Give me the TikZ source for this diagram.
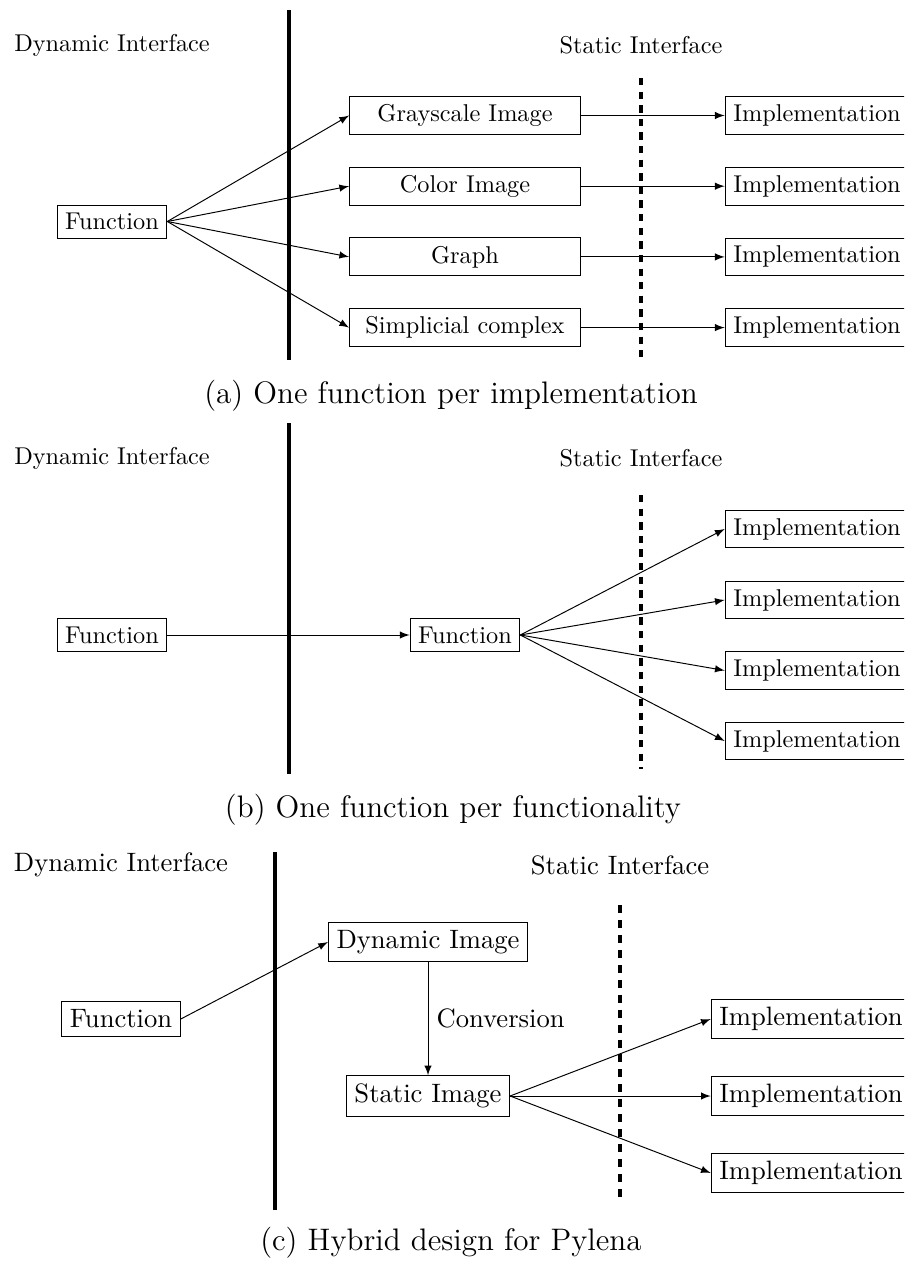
\documentclass[tikz,border=0pt]{standalone}
\usetikzlibrary{arrows}
\begin{document}
\begin{tikzpicture}[x=0.4115pt,y=-0.4115pt,
  box/.style={draw,line width=0.4pt},
  mid/.style={box,minimum width=95pt},
  arr/.style={-latex,line width=0.4pt},
  wall/.style={line width=1.6pt},
  dwall/.style={line width=1.6pt,dash pattern=on 3pt off 2.6pt},
  capt/.style={font=\fontsize{12.8}{15}\selectfont}]
\useasboundingbox (0,0) rectangle (904,1263);
\clip (0,0) rectangle (904,1263);

% ---------- panel (a)
\coordinate (wa1) at (289,10);  \coordinate (wa2) at (289,360);
\coordinate (da1) at (641,78);  \coordinate (da2) at (641,357);
\draw[wall] (wa1) -- (wa2);
\node (dla) at (112,45) {Dynamic Interface};
\node (sla) at (641,45) {Static Interface};
\node[box] (fa) at (112,221.5) {Function};
\node[mid] (ga) at (465,115.5) {Grayscale Image};
\node[mid] (ca) at (465,186.2) {Color Image};
\node[mid] (gra) at (465,256.9) {Graph};
\node[mid] (sca) at (465,327.6) {Simplicial complex};
\node[box] (ia1) at (817,115.5) {Implementation};
\node[box] (ia2) at (817,186.2) {Implementation};
\node[box] (ia3) at (817,256.9) {Implementation};
\node[box] (ia4) at (817,327.6) {Implementation};
\foreach \m in {ga,ca,gra,sca} \draw[arr] (fa.east) -- (\m.west);
\draw[arr] (ga.east) -- (ia1.west);
\draw[arr] (ca.east) -- (ia2.west);
\draw[arr] (gra.east) -- (ia3.west);
\draw[arr] (sca.east) -- (ia4.west);
\draw[dwall] (da1) -- (da2);
\node[capt] (capa) at (451,396) {(a) One function per implementation};

% ---------- panel (b)
\coordinate (wb1) at (289,423);  \coordinate (wb2) at (289,774);
\coordinate (db1) at (641,495);  \coordinate (db2) at (641,769);
\draw[wall] (wb1) -- (wb2);
\node (dlb) at (112,458) {Dynamic Interface};
\node (slb) at (641,458) {Static Interface};
\node[box] (fb) at (112,635) {Function};
\node[box] (fb2) at (465,635) {Function};
\node[box] (ib1) at (817,529) {Implementation};
\node[box] (ib2) at (817,600) {Implementation};
\node[box] (ib3) at (817,670.5) {Implementation};
\node[box] (ib4) at (817,741) {Implementation};
\draw[arr] (fb.east) -- (fb2.west);
\foreach \i in {ib1,ib2,ib3,ib4} \draw[arr] (fb2.east) -- (\i.west);
\draw[dwall] (db1) -- (db2);
\node[capt] (capb) at (453,810) {(b) One function per functionality};

% ---------- panel (c)
\begin{scope}[font=\fontsize{10.95}{13.2}\selectfont,
  wall/.style={line width=1.75pt},
  dwall/.style={line width=1.75pt,dash pattern=on 3.3pt off 2.85pt}]
\coordinate (wc1) at (275,852);  \coordinate (wc2) at (275,1210);
\coordinate (dc1) at (620,905);  \coordinate (dc2) at (620,1202);
\draw[wall] (wc1) -- (wc2);
\node (dlc) at (121,865) {Dynamic Interface};
\node (slc) at (620,865) {Static Interface};
\node[box] (fc) at (121,1019) {Function};
\node[box] (dic) at (428,942) {Dynamic Image};
\node[box] (sic) at (428,1096) {Static Image};
\node[box] (ic1) at (811,1019) {Implementation};
\node[box] (ic2) at (811,1096) {Implementation};
\node[box] (ic3) at (811,1173) {Implementation};
\draw[arr] (fc.east) -- (dic.west);
\draw[arr] (dic.south) -- node[right] {Conversion} (sic.north);
\foreach \i in {ic1,ic2,ic3} \draw[arr] (sic.east) -- (\i.west);
\draw[dwall] (dc1) -- (dc2);
\end{scope}
\node[capt] (capc) at (451,1243) {(c) Hybrid design for Pylena};
\end{tikzpicture}
\end{document}
